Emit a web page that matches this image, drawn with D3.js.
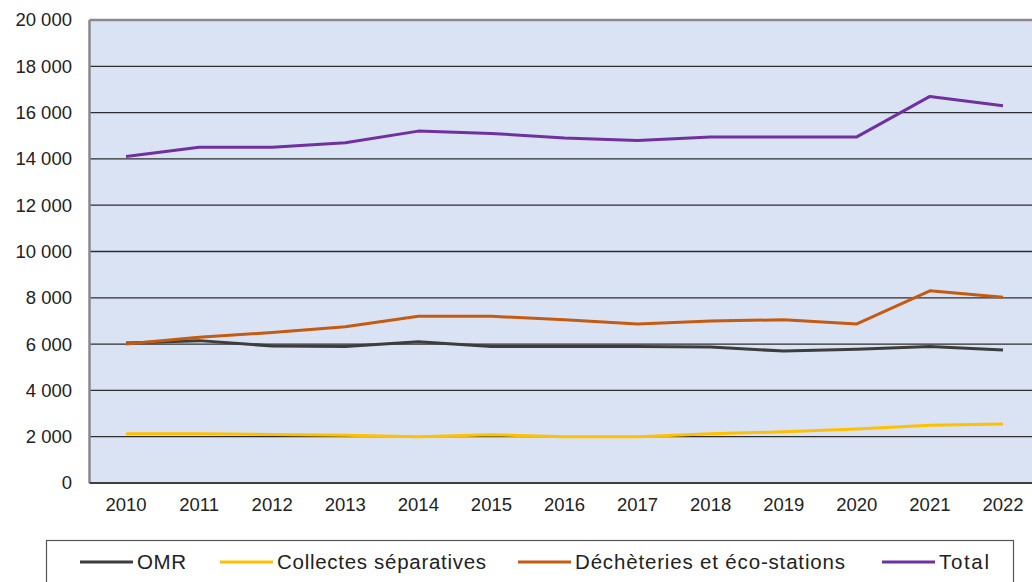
<!DOCTYPE html>
<html><head><meta charset="utf-8">
<script src="https://cdn.jsdelivr.net/npm/d3@7"></script>
<style>body{margin:0;background:#fff;overflow:hidden}svg{display:block}</style>
</head><body>
<svg id="c" width="1032" height="582"></svg>
<script>
const years = [2010,2011,2012,2013,2014,2015,2016,2017,2018,2019,2020,2021,2022];
const omr = [6050,6150,5920,5900,6100,5900,5900,5900,5870,5700,5780,5900,5750];
const collectes = [2130,2130,2100,2060,2000,2080,2000,2000,2130,2210,2330,2490,2550];
const decheteries = [6000,6300,6500,6750,7200,7200,7050,6870,7000,7050,6870,8300,8020];
const total = [14100,14500,14500,14700,15200,15100,14900,14800,14950,14950,14950,16700,16300];
const yTicks = [0,2000,4000,6000,8000,10000,12000,14000,16000,18000,20000];
const seriesNames = ["OMR","Collectes séparatives","Déchèteries et éco-stations","Total"];
const seriesColors = ["#3d3d3d","#FFC000","#C55A11","#7030A0"];
const seriesData = [omr, collectes, decheteries, total];

const svg = d3.select("#c");
const font = "'Liberation Sans', Arial, sans-serif";
const L = 89.5, R = 1039.5, T = 20, B = 483;
const x = d3.scaleBand().domain(years).range([L, R]);
const y = d3.scaleLinear().domain([0, 20000]).range([B, T]);

svg.append("rect").attr("x", L).attr("y", T).attr("width", R - L).attr("height", B - T).attr("fill", "#DAE3F3");

// gridlines
svg.append("g").selectAll("line").data(yTicks.filter(d => d > 0 && d < 20000)).join("line")
  .attr("x1", L).attr("x2", R).attr("y1", d => y(d)).attr("y2", d => y(d))
  .attr("stroke", "#2e2e2e").attr("stroke-width", 1.3);

// borders
svg.append("line").attr("x1", L).attr("x2", R).attr("y1", T).attr("y2", T).attr("stroke", "#8a8a8a").attr("stroke-width", 2.5);
svg.append("line").attr("x1", L).attr("x2", L).attr("y1", T).attr("y2", B).attr("stroke", "#8a8a8a").attr("stroke-width", 2.5);
svg.append("line").attr("x1", L).attr("x2", R).attr("y1", B).attr("y2", B).attr("stroke", "#404040").attr("stroke-width", 1.8);

// y axis
const yAxis = d3.axisLeft(y).tickValues(yTicks).tickSize(0).tickPadding(0)
  .tickFormat(d => d3.format(",")(d).replace(/,/g, "\u00a0"));
const gy = svg.append("g").attr("transform", `translate(${72},0)`).call(yAxis);
gy.select(".domain").remove();
gy.selectAll("text").attr("font-family", font).attr("font-size", 18.5).attr("fill", "#222");

// x axis
const xAxis = d3.axisBottom(x).tickSize(0).tickPadding(0);
const gx = svg.append("g").attr("transform", `translate(0,${498})`).call(xAxis);
gx.select(".domain").remove();
gx.selectAll("text").attr("font-family", font).attr("font-size", 18.5).attr("fill", "#222");

// lines
const line = d3.line().x((d, i) => x(years[i]) + x.bandwidth() / 2).y(d => y(d));
seriesData.forEach((s, k) => {
  svg.append("path").datum(s).attr("d", line).attr("fill", "none")
    .attr("stroke", seriesColors[k]).attr("stroke-width", 3).attr("stroke-linejoin", "round");
});

// legend
svg.append("rect").attr("x", 46.5).attr("y", 540.5).attr("width", 967).attr("height", 60)
  .attr("fill", "#fff").attr("stroke", "#555").attr("stroke-width", 1.2);
const legX = [80, 220, 518, 882];
const legW = [49, 209, 270, 50];
seriesNames.forEach((n, k) => {
  const g = svg.append("g");
  g.append("line").attr("x1", legX[k]).attr("x2", legX[k] + 53).attr("y1", 562).attr("y2", 562)
    .attr("stroke", seriesColors[k]).attr("stroke-width", 3);
  g.append("text").attr("x", legX[k] + 57).attr("y", 562).attr("dy", "0.36em")
    .attr("font-family", font).attr("font-size", 20.5).attr("fill", "#222")
    .attr("textLength", legW[k]).attr("lengthAdjust", "spacing").text(n);
});
</script>
</body></html>
